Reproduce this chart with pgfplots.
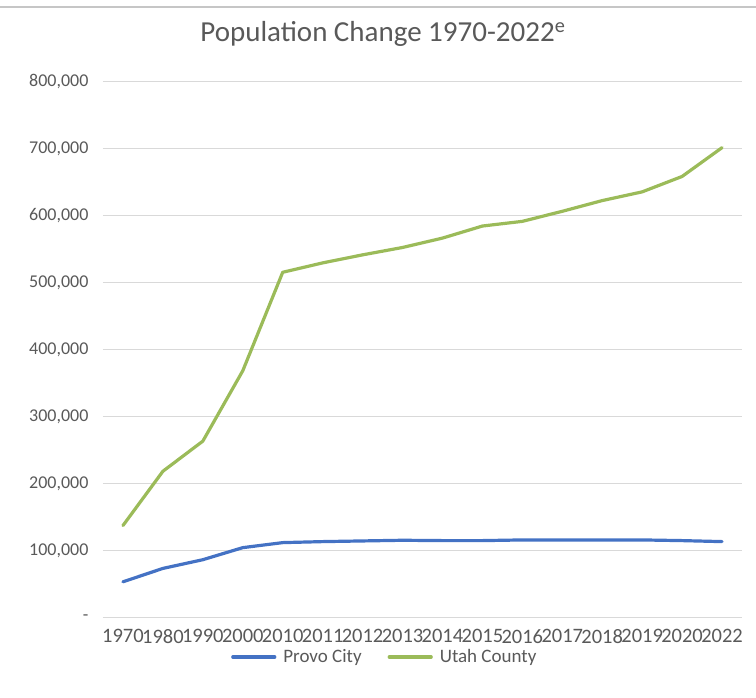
\documentclass[border=0pt]{standalone}
\usepackage{pgfplots}
\pgfplotsset{compat=1.18}
\usepackage{fontspec}
\setmainfont{Carlito}
\definecolor{txtgray}{HTML}{595959}
\definecolor{gridgray}{HTML}{D9D9D9}
\definecolor{provoblue}{HTML}{4472C4}
\definecolor{utahgreen}{HTML}{9BBB59}
\pgfplotstableread{
x  provo  utah
0  54000  138000
1  74000  219000
2  87000  264000
3  105000 369000
4  112500 516000
5  114000 530000
6  115000 542000
7  116000 553000
8  115500 567000
9  115500 585000
10 116500 592000
11 116500 607000
12 116500 623000
13 116500 636000
14 115500 659000
15 114000 702000
}\popdata
\begin{document}
\begin{tikzpicture}
\path[use as bounding box] (0,0) rectangle (756pt,698pt);
\draw[gray!45, line width=2pt] (0,691pt) -- (756pt,691pt);
\begin{axis}[
  at={(103pt,80pt)}, anchor=south west,
  scale only axis, width=639pt, height=536pt,
  xmin=-0.5, xmax=15.5, ymin=0, ymax=800000,
  scaled y ticks=false,
  xtick={0,...,15},
  xticklabels={1970,1980,1990,2000,2010,2011,2012,2013,2014,2015,2016,2017,2018,2019,2020,2022},
  ytick={0,100000,...,800000},
  yticklabels={{-\hspace{13pt}},{100,000},{200,000},{300,000},{400,000},{500,000},{600,000},{700,000},{800,000}},
  major tick length=0pt,
  axis line style={draw=none},
  ymajorgrids, grid style={gridgray, line width=1pt},
  xticklabel style={font=\fontsize{20.5}{24}\selectfont, text=txtgray, inner xsep=0pt, yshift=-8pt},
  yticklabel style={font=\fontsize{18}{22}\selectfont, text=txtgray, xshift=-11pt},
  title={Population Change 1970-2022\textsuperscript{e}},
  title style={at={(0.438,1.078)}, anchor=center, font=\fontsize{29}{33}\selectfont, text=txtgray},
  legend style={at={(0.441,-0.0728)}, anchor=center, draw=none, fill=none,
    font=\fontsize{19}{22}\selectfont, text=txtgray, legend columns=2,
    /tikz/every odd column/.append style={column sep=5pt},
    /tikz/every even column/.append style={column sep=24pt}},
  legend image code/.code={\draw[#1] (0pt,0pt) -- (42pt,0pt);},
  clip=false,
]
\addplot[provoblue, line width=3.2pt, line join=round, line cap=round] table[x=x, y=provo] {\popdata};
\addlegendentry{Provo City\hspace{14pt}}
\addplot[utahgreen, line width=3.2pt, line join=round, line cap=round] table[x=x, y=utah] {\popdata};
\addlegendentry{Utah County}
\end{axis}
\end{tikzpicture}
\end{document}
